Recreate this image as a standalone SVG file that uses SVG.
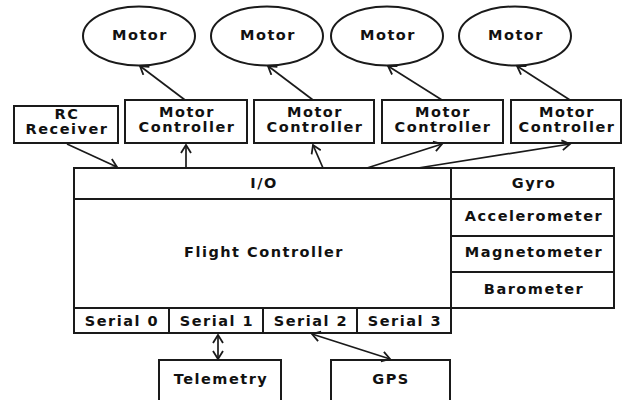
<svg xmlns="http://www.w3.org/2000/svg" width="623" height="400" viewBox="0 0 623 400">
<style>
.b{fill:#fff;stroke:#1a1a1a;stroke-width:2}
.d{fill:none;stroke:#1a1a1a;stroke-width:1.7}
.c{fill:none;stroke:#1a1a1a;stroke-width:2}
text{font-family:"DejaVu Sans",Verdana,sans-serif;font-weight:bold;font-size:14.5px;letter-spacing:1.5px;fill:#111;text-anchor:middle}
</style>
<defs>
<marker id="ah" markerWidth="12" markerHeight="12" refX="10" refY="6" orient="auto-start-reverse" markerUnits="userSpaceOnUse">
<path d="M2,1 L10,6 L2,11" fill="none" stroke="#1a1a1a" stroke-width="1.8"/>
</marker>
</defs>
<rect width="623" height="400" fill="#fff"/>
<g id="motor1"><ellipse class="b" cx="139" cy="36" rx="56" ry="29.5"/><text x="140" y="40">Motor</text></g>
<g id="motor2"><ellipse class="b" cx="267" cy="36" rx="56" ry="29.5"/><text x="268" y="40">Motor</text></g>
<g id="motor3"><ellipse class="b" cx="387" cy="36" rx="56" ry="29.5"/><text x="388" y="40">Motor</text></g>
<g id="motor4"><ellipse class="b" cx="515" cy="36" rx="56" ry="29.5"/><text x="516" y="40">Motor</text></g>
<g id="rc"><rect class="b" x="14" y="106" width="104" height="37"/><text x="67" y="119">RC</text><text x="67" y="134">Receiver</text></g>
<g id="mc1"><rect class="b" x="125" y="100" width="122" height="43"/><text x="187" y="117">Motor</text><text x="187" y="132">Controller</text></g>
<g id="mc2"><rect class="b" x="254" y="100" width="120" height="43"/><text x="315" y="117">Motor</text><text x="315" y="132">Controller</text></g>
<g id="mc3"><rect class="b" x="382" y="100" width="121" height="43"/><text x="443" y="117">Motor</text><text x="443" y="132">Controller</text></g>
<g id="mc4"><rect class="b" x="511" y="100" width="110" height="43"/><text x="567" y="117">Motor</text><text x="567" y="132">Controller</text></g>
<g id="fc">
<rect class="b" x="74" y="168" width="377" height="165"/>
<line class="c" x1="74" y1="199" x2="451" y2="199"/>
<line class="c" x1="74" y1="308" x2="451" y2="308"/>
<text x="264" y="188">I/O</text>
<text x="264" y="257">Flight Controller</text>
</g>
<g id="serial0"><text x="122" y="326">Serial 0</text></g>
<g id="serial1"><line class="c" x1="169" y1="308" x2="169" y2="333"/><text x="217" y="326">Serial 1</text></g>
<g id="serial2"><line class="c" x1="263" y1="308" x2="263" y2="333"/><text x="311" y="326">Serial 2</text></g>
<g id="serial3"><line class="c" x1="357" y1="308" x2="357" y2="333"/><text x="405" y="326">Serial 3</text></g>
<g id="gyro"><rect class="b" x="451" y="168" width="163" height="31"/><text x="534" y="188">Gyro</text></g>
<g id="accel"><rect class="b" x="451" y="199" width="163" height="37"/><text x="534" y="221">Accelerometer</text></g>
<g id="mag"><rect class="b" x="451" y="236" width="163" height="36"/><text x="534" y="257">Magnetometer</text></g>
<g id="baro"><rect class="b" x="451" y="272" width="163" height="36"/><text x="534" y="294">Barometer</text></g>
<g id="telemetry"><rect class="b" x="159" y="360" width="122" height="45"/><text x="221" y="384">Telemetry</text></g>
<g id="gps"><rect class="b" x="331" y="360" width="119" height="45"/><text x="391" y="384">GPS</text></g>
<g id="connectors">
<line class="d" x1="185" y1="100" x2="140" y2="66" marker-end="url(#ah)"/>
<line class="d" x1="313" y1="100" x2="268" y2="66" marker-end="url(#ah)"/>
<line class="d" x1="442" y1="100" x2="388" y2="66" marker-end="url(#ah)"/>
<line class="d" x1="570" y1="100" x2="517" y2="66" marker-end="url(#ah)"/>
<line class="d" x1="67" y1="144" x2="117" y2="167" marker-end="url(#ah)"/>
<line class="d" x1="186" y1="168" x2="186" y2="145" marker-end="url(#ah)"/>
<line class="d" x1="323" y1="168" x2="313" y2="145" marker-end="url(#ah)"/>
<line class="d" x1="367" y1="168" x2="442" y2="144" marker-end="url(#ah)"/>
<line class="d" x1="418" y1="168" x2="570" y2="144" marker-end="url(#ah)"/>
<line class="d" x1="218" y1="335" x2="218" y2="359" marker-start="url(#ah)" marker-end="url(#ah)"/>
<line class="d" x1="312" y1="334" x2="390" y2="359" marker-start="url(#ah)" marker-end="url(#ah)"/>
</g>
</svg>
